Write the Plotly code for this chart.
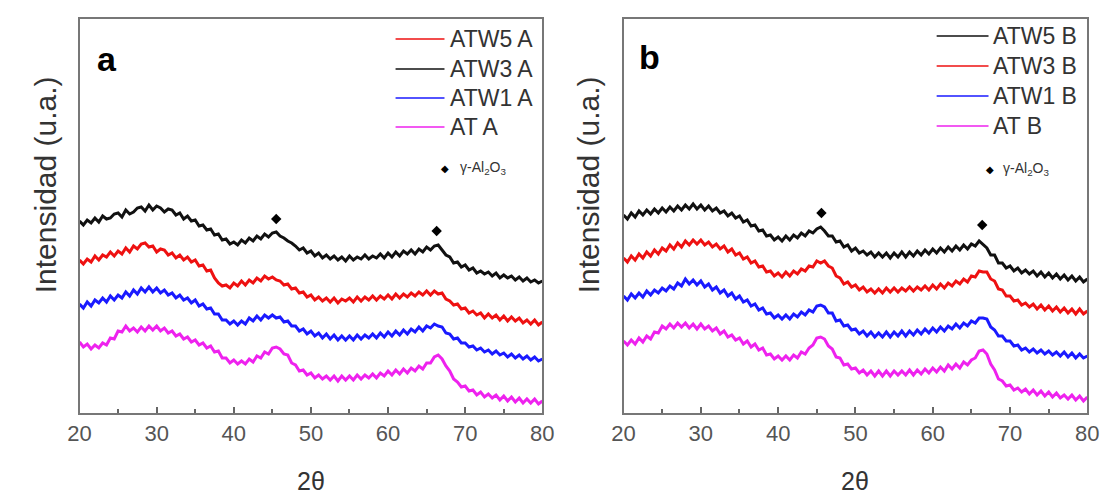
import plotly.graph_objects as go

# 2-theta grid (degrees), one reading every half degree from 20 to 80
two_theta = [20 + 0.5 * i for i in range(121)]

# Panel a intensities (arbitrary units)
atw5_a = [153,149,154,151,157,153,158,156,161,157,162,159,165,161,167,164,169,170,166,167,
          161,164,163,158,160,155,158,153,156,151,153,147,148,142,143,135,130,127,128,125,
          130,127,132,128,133,130,135,132,137,134,136,133,132,128,129,124,125,120,121,116,
          118,113,116,112,115,111,115,110,114,112,115,111,116,112,116,113,117,113,117,114,
          118,114,119,115,119,116,120,117,121,118,122,118,122,119,120,114,112,108,109,104,
          105,100,102,98,100,95,99,95,98,93,97,92,96,92,95,90,93,89,93,88,91]
atw3_a = [192,188,193,190,195,191,197,194,195,199,200,196,203,199,201,205,206,202,208,203,
          207,205,201,204,203,198,200,194,197,192,193,187,188,183,184,178,179,173,174,169,
          171,168,173,170,175,172,177,174,179,176,180,181,177,175,172,170,167,163,165,160,
          162,157,160,155,158,154,157,153,156,152,157,153,156,154,158,154,157,155,159,155,
          160,156,161,157,162,159,163,159,164,161,166,163,167,168,163,158,156,150,151,146,
          148,143,145,140,142,139,141,137,140,135,138,135,137,133,136,132,135,131,133,130,132]
atw1_a = [109,105,111,107,113,110,115,111,117,113,118,115,121,117,123,119,125,121,126,121,
          125,120,123,118,120,115,118,113,115,110,113,107,109,104,105,99,99,93,93,89,
          92,88,92,89,95,92,97,93,98,95,98,95,96,91,92,87,87,82,84,79,
          82,77,80,75,79,74,78,73,77,73,77,73,78,74,78,75,79,75,80,76,
          81,77,82,78,83,79,84,81,86,82,87,85,89,87,86,80,79,74,75,70,
          70,66,67,63,65,61,63,59,62,58,60,56,59,55,58,54,57,53,56,52,54]
at_a = [71,66,69,64,68,65,70,68,75,74,82,81,87,82,85,81,86,82,87,83,
        87,82,85,80,82,77,79,74,76,71,73,68,70,65,67,61,62,55,55,50,
        53,49,52,49,54,51,57,55,61,59,65,66,64,59,58,50,48,42,43,38,
        40,35,38,34,37,33,37,32,37,33,37,33,38,34,38,35,39,35,40,37,
        42,38,43,39,44,40,45,42,47,44,50,50,56,58,54,47,42,34,31,26,
        27,22,23,18,21,16,19,15,18,13,17,12,16,11,15,10,14,10,14,9,12]

# Panel b intensities (arbitrary units)
atw5_b = [198,194,200,196,202,198,203,199,204,200,205,201,206,202,207,203,208,204,209,204,
          208,203,207,202,205,200,202,197,200,195,197,191,193,187,188,182,183,177,178,173,
          176,172,177,173,178,175,180,177,182,180,184,186,182,177,177,171,172,166,168,162,
          165,160,162,158,161,156,160,156,160,155,160,156,161,156,161,157,162,158,163,159,
          164,160,165,161,166,162,167,163,168,164,169,167,172,168,165,158,158,150,150,145,
          147,142,145,140,143,139,142,137,141,136,140,135,139,134,138,133,137,132,136,131,134]
atw3_b = [155,151,157,153,159,155,161,157,163,159,165,162,168,164,170,166,172,168,173,169,
          173,168,171,166,169,164,167,161,164,158,160,154,156,150,152,146,147,141,142,137,
          140,136,141,137,142,139,144,142,147,146,152,150,152,147,145,137,135,129,131,126,
          128,123,126,121,124,120,124,120,125,121,125,121,125,122,126,122,126,123,127,123,
          128,124,129,125,130,127,132,129,134,131,137,136,142,141,141,134,132,124,123,117,
          117,112,113,108,110,106,109,104,108,103,107,102,106,101,105,100,104,99,104,99,102]
atw1_b = [117,113,119,115,120,116,122,118,123,120,125,122,127,124,130,127,134,129,133,128,
          132,126,129,123,126,120,123,117,120,114,117,111,113,107,109,103,105,99,100,95,
          98,94,98,94,99,96,101,98,103,101,107,108,106,100,100,92,93,87,88,83,
          84,79,82,77,81,76,80,76,81,76,81,77,82,77,82,78,83,79,84,80,
          85,81,86,82,87,84,89,85,90,87,92,90,95,95,94,86,83,77,77,72,
          72,67,68,63,65,61,64,60,63,59,62,58,61,57,61,56,60,55,59,55,57]
at_b = [72,68,73,69,75,71,77,74,81,80,87,84,89,85,90,86,90,85,89,84,
        89,84,87,82,85,79,82,76,78,73,75,69,72,66,69,63,65,58,59,54,
        57,53,57,53,58,55,61,59,65,68,75,76,74,67,64,56,55,48,49,44,
        45,40,43,38,42,37,42,37,42,37,42,38,42,38,43,38,43,39,44,40,
        45,41,46,42,48,44,49,45,51,48,53,55,62,63,59,49,43,34,32,27,
        28,23,25,21,24,19,23,18,22,17,21,16,20,15,18,14,18,13,17,12,16]

# gamma-alumina reflections marked above the top pattern
peaks_a_x = [45.5, 66.3]
peaks_a_y = [194, 182]
peaks_b_x = [45.6, 66.4]
peaks_b_y = [200, 188]

x_ticks = [20, 30, 40, 50, 60, 70, 80]

BLACK, RED, BLUE, MAGENTA = "#111111", "#ee1111", "#1a1aff", "#ee22ee"

panel_a = [("ATW5 A", atw5_a, RED), ("ATW3 A", atw3_a, BLACK),
           ("ATW1 A", atw1_a, BLUE), ("AT A", at_a, MAGENTA)]
panel_b = [("ATW5 B", atw5_b, BLACK), ("ATW3 B", atw3_b, RED),
           ("ATW1 B", atw1_b, BLUE), ("AT B", at_b, MAGENTA)]

W, H = 1115, 495

def px(x):
    return x / W

def py(y):
    return 1 - y / H

fig = go.Figure()

for suffix, series in (("", panel_a), ("2", panel_b)):
    for name, vals, color in series:
        fig.add_trace(go.Scatter(
            x=two_theta, y=vals, mode="lines", name=name,
            line=dict(color=color, width=3),
            xaxis="x" + suffix, yaxis="y" + suffix, showlegend=False,
        ))

for suffix, xs, ys in (("", peaks_a_x, peaks_a_y), ("2", peaks_b_x, peaks_b_y)):
    fig.add_trace(go.Scatter(
        x=xs, y=ys, mode="markers",
        marker=dict(symbol="diamond", size=8, color="#000000"),
        xaxis="x" + suffix, yaxis="y" + suffix, showlegend=False,
    ))

axis_font = dict(family="Liberation Sans, Arial, sans-serif", size=22, color="#555555")

def xaxis(domain, anchor):
    return dict(
        domain=domain, anchor=anchor, range=[20, 80],
        tickvals=x_ticks, ticks="inside", ticklen=6, tickwidth=2, tickcolor="#666666",
        minor=dict(dtick=5, ticks="inside", ticklen=4, tickwidth=2, tickcolor="#666666"),
        showline=True, linecolor="#777777", linewidth=2, mirror=True,
        showgrid=False, zeroline=False, tickfont=axis_font,
    )

def yaxis(anchor):
    return dict(
        domain=[82 / H, 476 / H], anchor=anchor, range=[0, 394],
        showticklabels=False, ticks="",
        showline=True, linecolor="#777777", linewidth=2, mirror=True,
        showgrid=False, zeroline=False,
    )

fig.update_layout(
    width=W, height=H,
    margin=dict(l=0, r=0, t=0, b=0),
    paper_bgcolor="white", plot_bgcolor="white",
    showlegend=False,
    xaxis=xaxis([69 / W, 542 / W], "y"),
    yaxis=yaxis("x"),
    xaxis2=xaxis([625 / W, 1099 / W], "y2"),
    yaxis2=yaxis("x2"),
)

text_font = dict(family="Liberation Sans, Arial, sans-serif", color="#333333")

# Legend blocks drawn in page pixels
legend_layouts = [
    (panel_a, 392, 442, 446, [39, 69, 98, 127], (443, 168), 456),
    (panel_b, 945, 998, 1001, [36, 66, 96, 126], (1000, 169), 1011),
]
for series, x0, x1, xt, rows, dia, xg in legend_layouts:
    for (name, _, color), yy in zip(series, rows):
        fig.add_shape(type="line", xref="paper", yref="paper",
                      x0=px(x0), x1=px(x1), y0=py(yy), y1=py(yy),
                      line=dict(color=color, width=1.5))
        fig.add_annotation(xref="paper", yref="paper", x=px(xt), y=py(yy),
                           xanchor="left", yanchor="middle", showarrow=False,
                           text=name, font=dict(size=23, **text_font))
    fig.add_annotation(xref="paper", yref="paper", x=px(dia[0]), y=py(dia[1]),
                       xanchor="center", yanchor="middle", showarrow=False,
                       text="◆", font=dict(size=10, color="#000000"))
    fig.add_annotation(xref="paper", yref="paper", x=px(xg), y=py(dia[1]),
                       xanchor="left", yanchor="middle", showarrow=False,
                       text="γ-Al<sub>2</sub>O<sub>3</sub>",
                       font=dict(size=14, **text_font))

# Panel letters
for letter, x, y in (("a", 97, 59), ("b", 652, 57)):
    fig.add_annotation(xref="paper", yref="paper", x=px(x), y=py(y),
                       xanchor="center", yanchor="middle", showarrow=False,
                       text=f"<b>{letter}</b>",
                       font=dict(family="Liberation Sans, Arial, sans-serif",
                                 size=34, color="#000000"))

# Axis titles
for x in (35, 590):
    fig.add_annotation(xref="paper", yref="paper", x=px(x), y=py(185),
                       xanchor="center", yanchor="middle", showarrow=False,
                       textangle=-90, text="Intensidad (u.a.)",
                       font=dict(size=30, **text_font))
for x in (306, 862):
    fig.add_annotation(xref="paper", yref="paper", x=px(x), y=py(481),
                       xanchor="center", yanchor="middle", showarrow=False,
                       text="2θ", font=dict(size=25, **text_font))

fig.write_html("out.html")
